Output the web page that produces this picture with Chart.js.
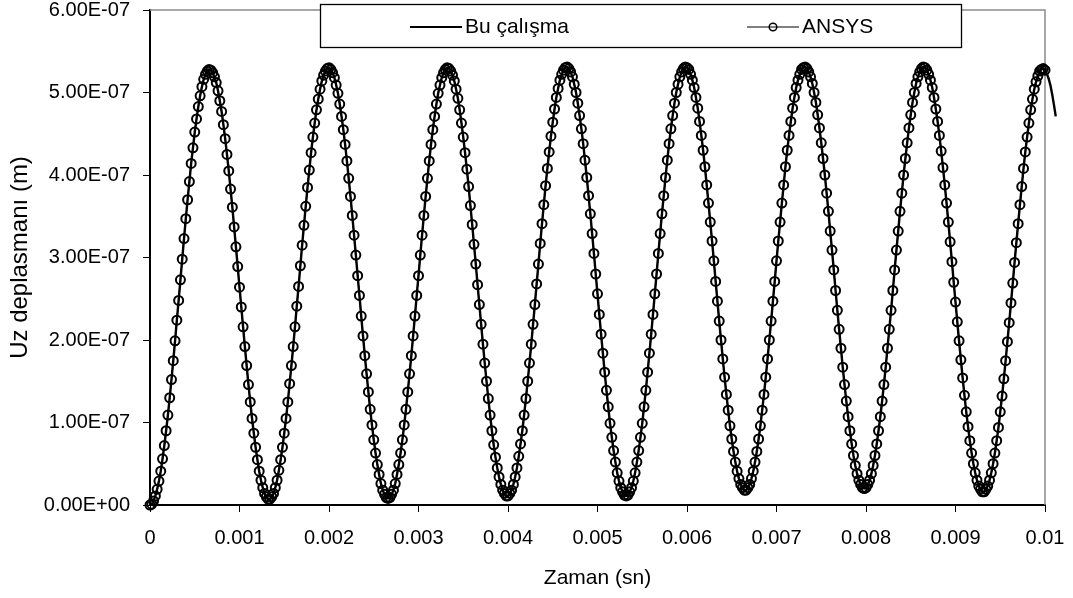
<!DOCTYPE html>
<html>
<head>
<meta charset="utf-8">
<script src="https://cdn.jsdelivr.net/npm/chart.js"></script>
<style>
html, body { margin: 0; padding: 0; background: #fff; }
canvas { display: block; }
</style>
</head>
<body>
<canvas id="grafik" width="1073" height="598"></canvas>
<script>
// zaman (sn)
const time = [
0.00000,0.00002,0.00004,0.00006,0.00008,0.00010,0.00012,0.00014,0.00016,0.00018,
0.00020,0.00022,0.00024,0.00026,0.00028,0.00030,0.00032,0.00034,0.00036,0.00038,
0.00040,0.00042,0.00044,0.00046,0.00048,0.00050,0.00052,0.00054,0.00056,0.00058,
0.00060,0.00062,0.00064,0.00066,0.00068,0.00070,0.00072,0.00074,0.00076,0.00078,
0.00080,0.00082,0.00084,0.00086,0.00088,0.00090,0.00092,0.00094,0.00096,0.00098,
0.00100,0.00102,0.00104,0.00106,0.00108,0.00110,0.00112,0.00114,0.00116,0.00118,
0.00120,0.00122,0.00124,0.00126,0.00128,0.00130,0.00132,0.00134,0.00136,0.00138,
0.00140,0.00142,0.00144,0.00146,0.00148,0.00150,0.00152,0.00154,0.00156,0.00158,
0.00160,0.00162,0.00164,0.00166,0.00168,0.00170,0.00172,0.00174,0.00176,0.00178,
0.00180,0.00182,0.00184,0.00186,0.00188,0.00190,0.00192,0.00194,0.00196,0.00198,
0.00200,0.00202,0.00204,0.00206,0.00208,0.00210,0.00212,0.00214,0.00216,0.00218,
0.00220,0.00222,0.00224,0.00226,0.00228,0.00230,0.00232,0.00234,0.00236,0.00238,
0.00240,0.00242,0.00244,0.00246,0.00248,0.00250,0.00252,0.00254,0.00256,0.00258,
0.00260,0.00262,0.00264,0.00266,0.00268,0.00270,0.00272,0.00274,0.00276,0.00278,
0.00280,0.00282,0.00284,0.00286,0.00288,0.00290,0.00292,0.00294,0.00296,0.00298,
0.00300,0.00302,0.00304,0.00306,0.00308,0.00310,0.00312,0.00314,0.00316,0.00318,
0.00320,0.00322,0.00324,0.00326,0.00328,0.00330,0.00332,0.00334,0.00336,0.00338,
0.00340,0.00342,0.00344,0.00346,0.00348,0.00350,0.00352,0.00354,0.00356,0.00358,
0.00360,0.00362,0.00364,0.00366,0.00368,0.00370,0.00372,0.00374,0.00376,0.00378,
0.00380,0.00382,0.00384,0.00386,0.00388,0.00390,0.00392,0.00394,0.00396,0.00398,
0.00400,0.00402,0.00404,0.00406,0.00408,0.00410,0.00412,0.00414,0.00416,0.00418,
0.00420,0.00422,0.00424,0.00426,0.00428,0.00430,0.00432,0.00434,0.00436,0.00438,
0.00440,0.00442,0.00444,0.00446,0.00448,0.00450,0.00452,0.00454,0.00456,0.00458,
0.00460,0.00462,0.00464,0.00466,0.00468,0.00470,0.00472,0.00474,0.00476,0.00478,
0.00480,0.00482,0.00484,0.00486,0.00488,0.00490,0.00492,0.00494,0.00496,0.00498,
0.00500,0.00502,0.00504,0.00506,0.00508,0.00510,0.00512,0.00514,0.00516,0.00518,
0.00520,0.00522,0.00524,0.00526,0.00528,0.00530,0.00532,0.00534,0.00536,0.00538,
0.00540,0.00542,0.00544,0.00546,0.00548,0.00550,0.00552,0.00554,0.00556,0.00558,
0.00560,0.00562,0.00564,0.00566,0.00568,0.00570,0.00572,0.00574,0.00576,0.00578,
0.00580,0.00582,0.00584,0.00586,0.00588,0.00590,0.00592,0.00594,0.00596,0.00598,
0.00600,0.00602,0.00604,0.00606,0.00608,0.00610,0.00612,0.00614,0.00616,0.00618,
0.00620,0.00622,0.00624,0.00626,0.00628,0.00630,0.00632,0.00634,0.00636,0.00638,
0.00640,0.00642,0.00644,0.00646,0.00648,0.00650,0.00652,0.00654,0.00656,0.00658,
0.00660,0.00662,0.00664,0.00666,0.00668,0.00670,0.00672,0.00674,0.00676,0.00678,
0.00680,0.00682,0.00684,0.00686,0.00688,0.00690,0.00692,0.00694,0.00696,0.00698,
0.00700,0.00702,0.00704,0.00706,0.00708,0.00710,0.00712,0.00714,0.00716,0.00718,
0.00720,0.00722,0.00724,0.00726,0.00728,0.00730,0.00732,0.00734,0.00736,0.00738,
0.00740,0.00742,0.00744,0.00746,0.00748,0.00750,0.00752,0.00754,0.00756,0.00758,
0.00760,0.00762,0.00764,0.00766,0.00768,0.00770,0.00772,0.00774,0.00776,0.00778,
0.00780,0.00782,0.00784,0.00786,0.00788,0.00790,0.00792,0.00794,0.00796,0.00798,
0.00800,0.00802,0.00804,0.00806,0.00808,0.00810,0.00812,0.00814,0.00816,0.00818,
0.00820,0.00822,0.00824,0.00826,0.00828,0.00830,0.00832,0.00834,0.00836,0.00838,
0.00840,0.00842,0.00844,0.00846,0.00848,0.00850,0.00852,0.00854,0.00856,0.00858,
0.00860,0.00862,0.00864,0.00866,0.00868,0.00870,0.00872,0.00874,0.00876,0.00878,
0.00880,0.00882,0.00884,0.00886,0.00888,0.00890,0.00892,0.00894,0.00896,0.00898,
0.00900,0.00902,0.00904,0.00906,0.00908,0.00910,0.00912,0.00914,0.00916,0.00918,
0.00920,0.00922,0.00924,0.00926,0.00928,0.00930,0.00932,0.00934,0.00936,0.00938,
0.00940,0.00942,0.00944,0.00946,0.00948,0.00950,0.00952,0.00954,0.00956,0.00958,
0.00960,0.00962,0.00964,0.00966,0.00968,0.00970,0.00972,0.00974,0.00976,0.00978,
0.00980,0.00982,0.00984,0.00986,0.00988,0.00990,0.00992,0.00994,0.00996,0.00998,
0.01000
]

// Uz deplasmanı (m) - ANSYS noktaları; "Bu çalışma" çizgisi bunların üstünden geçiyor
const uz = [
0,0.1e-8,0.5e-8,1.1e-8,1.9e-8,2.9e-8,4.1e-8,5.6e-8,7.2e-8,9.0e-8,10.9e-8,13.0e-8,15.2e-8,17.5e-8,19.9e-8,22.4e-8,24.8e-8,
27.3e-8,29.8e-8,32.3e-8,34.7e-8,37.0e-8,39.2e-8,41.4e-8,43.3e-8,45.2e-8,46.8e-8,48.3e-8,49.6e-8,50.7e-8,51.6e-8,52.2e-8,52.6e-8,52.8e-8,
52.7e-8,52.4e-8,51.9e-8,51.2e-8,50.2e-8,49.0e-8,47.7e-8,46.1e-8,44.4e-8,42.5e-8,40.5e-8,38.3e-8,36.1e-8,33.7e-8,31.3e-8,28.9e-8,26.4e-8,
24.0e-8,21.6e-8,19.2e-8,16.9e-8,14.6e-8,12.5e-8,10.5e-8,8.7e-8,7.0e-8,5.5e-8,4.1e-8,3.0e-8,2.1e-8,1.4e-8,1.0e-8,0.7e-8,
0.7e-8,1.0e-8,1.4e-8,2.1e-8,3.0e-8,4.2e-8,5.5e-8,7.0e-8,8.7e-8,10.5e-8,12.5e-8,14.7e-8,16.9e-8,19.2e-8,21.6e-8,24.1e-8,26.5e-8,
29.0e-8,31.5e-8,33.9e-8,36.2e-8,38.5e-8,40.6e-8,42.7e-8,44.6e-8,46.3e-8,47.9e-8,49.2e-8,50.4e-8,51.4e-8,52.1e-8,52.6e-8,52.9e-8,
53.0e-8,52.8e-8,52.4e-8,51.8e-8,50.9e-8,49.9e-8,48.6e-8,47.1e-8,45.5e-8,43.7e-8,41.7e-8,39.6e-8,37.4e-8,35.1e-8,32.7e-8,30.3e-8,27.8e-8,
25.4e-8,22.9e-8,20.5e-8,18.1e-8,15.9e-8,13.7e-8,11.6e-8,9.7e-8,7.9e-8,6.3e-8,4.9e-8,3.7e-8,2.6e-8,1.8e-8,1.3e-8,0.9e-8,
0.8e-8,0.9e-8,1.3e-8,1.8e-8,2.6e-8,3.7e-8,4.9e-8,6.3e-8,7.9e-8,9.7e-8,11.6e-8,13.7e-8,15.9e-8,18.1e-8,20.5e-8,22.9e-8,25.4e-8,
27.8e-8,30.3e-8,32.7e-8,35.1e-8,37.4e-8,39.6e-8,41.7e-8,43.7e-8,45.5e-8,47.1e-8,48.6e-8,49.9e-8,50.9e-8,51.8e-8,52.4e-8,52.8e-8,53.0e-8,
52.9e-8,52.6e-8,52.1e-8,51.4e-8,50.4e-8,49.3e-8,47.9e-8,46.3e-8,44.6e-8,42.7e-8,40.7e-8,38.6e-8,36.3e-8,34.0e-8,31.6e-8,29.2e-8,26.7e-8,
24.3e-8,21.9e-8,19.5e-8,17.2e-8,15.0e-8,12.9e-8,10.9e-8,9.0e-8,7.3e-8,5.8e-8,4.5e-8,3.4e-8,2.5e-8,1.8e-8,1.4e-8,1.1e-8,
1.1e-8,1.4e-8,1.8e-8,2.5e-8,3.4e-8,4.5e-8,5.9e-8,7.4e-8,9.0e-8,10.9e-8,12.9e-8,15.0e-8,17.2e-8,19.5e-8,21.9e-8,24.3e-8,26.8e-8,
29.2e-8,31.7e-8,34.1e-8,36.4e-8,38.7e-8,40.8e-8,42.8e-8,44.7e-8,46.4e-8,48.0e-8,49.4e-8,50.5e-8,51.5e-8,52.2e-8,52.7e-8,53.0e-8,
53.1e-8,52.9e-8,52.5e-8,51.9e-8,51.0e-8,50.0e-8,48.7e-8,47.2e-8,45.6e-8,43.8e-8,41.8e-8,39.7e-8,37.5e-8,35.3e-8,32.9e-8,30.5e-8,28.0e-8,
25.6e-8,23.1e-8,20.7e-8,18.4e-8,16.1e-8,13.9e-8,11.9e-8,9.9e-8,8.2e-8,6.6e-8,5.2e-8,3.9e-8,2.9e-8,2.1e-8,1.6e-8,1.2e-8,
1.1e-8,1.2e-8,1.6e-8,2.1e-8,2.9e-8,3.9e-8,5.2e-8,6.6e-8,8.2e-8,9.9e-8,11.9e-8,13.9e-8,16.1e-8,18.4e-8,20.7e-8,23.1e-8,25.6e-8,
28.0e-8,30.5e-8,32.9e-8,35.3e-8,37.5e-8,39.7e-8,41.8e-8,43.8e-8,45.6e-8,47.2e-8,48.7e-8,50.0e-8,51.0e-8,51.9e-8,52.5e-8,52.9e-8,53.1e-8,
53.0e-8,52.8e-8,52.2e-8,51.5e-8,50.6e-8,49.4e-8,48.1e-8,46.5e-8,44.8e-8,43.0e-8,41.0e-8,38.8e-8,36.6e-8,34.3e-8,32.0e-8,29.6e-8,27.1e-8,
24.7e-8,22.3e-8,20.0e-8,17.7e-8,15.5e-8,13.4e-8,11.5e-8,9.6e-8,8.0e-8,6.5e-8,5.2e-8,4.1e-8,3.2e-8,2.5e-8,2.1e-8,1.8e-8,
1.8e-8,2.1e-8,2.5e-8,3.2e-8,4.1e-8,5.2e-8,6.5e-8,8.0e-8,9.6e-8,11.5e-8,13.4e-8,15.5e-8,17.7e-8,20.0e-8,22.3e-8,24.7e-8,27.1e-8,
29.6e-8,32.0e-8,34.3e-8,36.6e-8,38.8e-8,41.0e-8,43.0e-8,44.8e-8,46.5e-8,48.1e-8,49.4e-8,50.6e-8,51.5e-8,52.2e-8,52.8e-8,53.0e-8,
53.1e-8,52.9e-8,52.5e-8,51.9e-8,51.1e-8,50.0e-8,48.8e-8,47.3e-8,45.7e-8,43.9e-8,42.0e-8,40.0e-8,37.8e-8,35.6e-8,33.2e-8,30.9e-8,28.5e-8,
26.0e-8,23.6e-8,21.3e-8,19.0e-8,16.7e-8,14.6e-8,12.6e-8,10.7e-8,9.0e-8,7.4e-8,6.0e-8,4.8e-8,3.8e-8,3.0e-8,2.5e-8,2.1e-8,
2.0e-8,2.1e-8,2.5e-8,3.0e-8,3.8e-8,4.8e-8,6.0e-8,7.4e-8,9.0e-8,10.7e-8,12.6e-8,14.6e-8,16.7e-8,19.0e-8,21.3e-8,23.6e-8,26.0e-8,
28.5e-8,30.9e-8,33.2e-8,35.6e-8,37.8e-8,40.0e-8,42.0e-8,43.9e-8,45.7e-8,47.3e-8,48.8e-8,50.0e-8,51.1e-8,51.9e-8,52.5e-8,52.9e-8,53.1e-8,
53.0e-8,52.7e-8,52.2e-8,51.5e-8,50.6e-8,49.4e-8,48.0e-8,46.5e-8,44.8e-8,42.9e-8,40.9e-8,38.8e-8,36.6e-8,34.3e-8,31.9e-8,29.5e-8,27.0e-8,
24.6e-8,22.2e-8,19.9e-8,17.6e-8,15.4e-8,13.3e-8,11.3e-8,9.5e-8,7.8e-8,6.3e-8,5.0e-8,3.9e-8,3.0e-8,2.3e-8,1.9e-8,1.6e-8,
1.6e-8,1.9e-8,2.3e-8,3.0e-8,3.9e-8,5.0e-8,6.3e-8,7.8e-8,9.4e-8,11.3e-8,13.2e-8,15.3e-8,17.5e-8,19.8e-8,22.1e-8,24.5e-8,26.9e-8,
29.4e-8,31.8e-8,34.1e-8,36.4e-8,38.6e-8,40.8e-8,42.8e-8,44.6e-8,46.3e-8,47.9e-8,49.2e-8,50.4e-8,51.3e-8,52.0e-8,52.6e-8,52.8e-8,
52.9e-8,52.7e-8
]

// Bu çalışma çizgisi 0.01'in biraz ötesine taşıyor
const timeTail = [0.01002, 0.01004, 0.01006, 0.01008, 0.0101, 0.01012]
const uzTail = [52.3e-8, 51.7e-8, 50.9e-8, 49.8e-8, 48.5e-8, 47.1e-8]

const seriesNames = ['Bu çalışma', 'ANSYS']
const xTitle = 'Zaman (sn)'
const yTitle = 'Uz deplasmanı (m)'
const xStep = 0.001
const yStep = 1e-7

const FONT = "'Liberation Sans', Arial, sans-serif"
Chart.defaults.font.family = FONT
Chart.defaults.color = '#000'

// Excel tarzı 0.00E+00
function sci(v) {
    let parts = v.toExponential(2).split('e')
    let e = Number(parts[1])
    return parts[0] + 'E' + (e < 0 ? '-' : '+') + String(Math.abs(e)).padStart(2, '0')
}

const lineTime = time.concat(timeTail)
const lineUz = uz.concat(uzTail)
const buPts = lineTime.map((t, i) => ({ x: t, y: lineUz[i] }))
const ansysPts = time.map((t, i) => ({ x: t, y: uz[i] }))

const frame = {
    id: 'frame',
    beforeDatasetsDraw(chart) {
        const a = chart.chartArea, ctx = chart.ctx
        ctx.save()
        ctx.strokeStyle = '#8a8a8a'
        ctx.lineWidth = 1.5
        ctx.beginPath()
        ctx.moveTo(a.left, a.top)
        ctx.lineTo(a.right, a.top)
        ctx.lineTo(a.right, a.bottom)
        ctx.stroke()
        ctx.restore()
    },
    afterDraw(chart) {
        const ctx = chart.ctx
        const ds = chart.data.datasets
        const y = 27
        ctx.save()
        ctx.fillStyle = '#fff'
        ctx.fillRect(320, 4, 641, 43)
        ctx.strokeStyle = '#000'
        ctx.lineWidth = 1.3
        ctx.strokeRect(320.5, 4.5, 641, 43)

        ctx.font = '21px ' + FONT
        ctx.textBaseline = 'middle'
        ctx.fillStyle = '#000'

        ctx.lineWidth = 2
        ctx.beginPath(); ctx.moveTo(410, y); ctx.lineTo(462, y); ctx.stroke()
        ctx.fillText(ds[0].label, 465, y)

        ctx.lineWidth = 1.2
        ctx.beginPath(); ctx.moveTo(747, y); ctx.lineTo(799, y); ctx.stroke()
        ctx.lineWidth = 1.5
        ctx.beginPath(); ctx.arc(773, y, 3.8, 0, 2 * Math.PI); ctx.stroke()
        ctx.fillText(ds[1].label, 802, y)
        ctx.restore()
    }
}

new Chart(document.getElementById('grafik'), {
    type: 'line',
    data: {
        datasets: [{
            label: seriesNames[0],
            data: buPts,
            borderColor: '#000',
            borderWidth: 2.4,
            pointRadius: 0,
            tension: 0,
            clip: false,
            order: 1
        }, {
            label: seriesNames[1],
            data: ansysPts,
            borderColor: '#000',
            borderWidth: 1.2,
            pointRadius: 4.5,
            pointBorderWidth: 2,
            pointBorderColor: '#000',
            pointBackgroundColor: 'rgba(0,0,0,0)',
            clip: false,
            order: 0
        }]
    },
    options: {
        responsive: false,
        animation: false,
        events: [],
        layout: { padding: { top: 10, right: 28, left: 0, bottom: 0 } },
        scales: {
            x: {
                type: 'linear',
                // min/max burada verilirse 0.01 sonrası çizgi kesiliyor
                afterDataLimits: s => { s.min = 0; s.max = 0.01 },
                ticks: { stepSize: xStep, padding: 14, maxRotation: 0, autoSkip: false, font: { size: 20 },
                    callback: v => String(Number(v.toFixed(3))) },
                grid: { drawOnChartArea: false, tickLength: 7, color: '#000', lineWidth: 1 },
                border: { color: '#000', width: 2 },
                title: { display: true, text: xTitle, font: { size: 21 }, padding: { top: 0, bottom: 7 } },
                afterFit: s => { s.height = 93; s.paddingLeft = 0; s.paddingRight = 0 }
            },
            y: {
                min: 0, max: 6e-7,
                ticks: { stepSize: yStep, padding: 13, font: { size: 20 }, callback: v => sci(v) },
                grid: { drawOnChartArea: false, tickLength: 7, color: '#000', lineWidth: 1 },
                border: { color: '#000', width: 2 },
                title: { display: true, text: yTitle, font: { size: 24 }, padding: { top: 6, bottom: 0 } },
                afterFit: s => { s.width = 150; s.paddingTop = 0; s.paddingBottom = 0 }
            }
        },
        plugins: { legend: { display: false }, tooltip: { enabled: false } }
    },
    plugins: [frame]
})
</script>
</body>
</html>
